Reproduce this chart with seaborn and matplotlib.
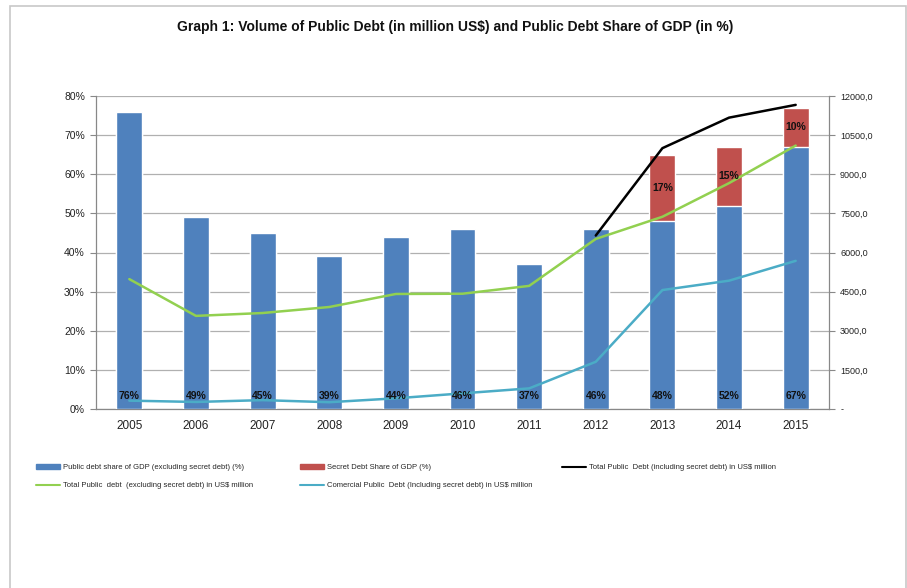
import matplotlib
matplotlib.use('Agg')
import matplotlib.pyplot as plt
import seaborn as sns
import pandas as pd
import numpy as np
from matplotlib.patches import Rectangle, Patch
from matplotlib.lines import Line2D
from matplotlib.ticker import FixedLocator, FuncFormatter

years = ['2005', '2006', '2007', '2008', '2009', '2010', '2011', '2012', '2013', '2014', '2015']
debt_share = [76, 49, 45, 39, 44, 46, 37, 46, 48, 52, 67]
secret_share = [0, 0, 0, 0, 0, 0, 0, 0, 17, 15, 10]
total_excl = [4980, 3570, 3680, 3910, 4410, 4420, 4720, 6520, 7370, 8660, 10100]
total_incl = [None, None, None, None, None, None, None, 6650, 10000, 11170, 11660]
commercial = [320, 270, 340, 260, 410, 600, 790, 1810, 4560, 4920, 5680]

blue = '#4F81BD'
red = '#C0504D'
green = '#92D050'
cyan = '#4BACC6'

df = pd.DataFrame({'year': years, 'share': debt_share, 'secret': secret_share})
df['top'] = df['share'] + df['secret']

sns.set_style('white')
plt.rcParams['font.family'] = ['Liberation Sans', 'DejaVu Sans']

fig = plt.figure(figsize=(9.07, 5.88), dpi=100)
ax = fig.add_axes([96 / 907, 1 - 409 / 588, 733 / 907, 313 / 588])

# stacked bars: total first (red), then the blue part over it
sns.barplot(data=df, x='year', y='top', color=red, width=0.39, saturation=1, ax=ax, zorder=2)
sns.barplot(data=df, x='year', y='share', color=blue, width=0.39, saturation=1, ax=ax, zorder=3)

ax.set_xlim(-0.5, len(years) - 0.5)
ax.set_ylim(0, 80)
ax.set_yticks(range(0, 81, 10))
ax.set_yticklabels([f'{v}%' for v in range(0, 81, 10)], fontsize=7.5, color='#222222')
ax.set_xlabel('')
ax.set_ylabel('')
ax.tick_params(axis='x', labelsize=8.5, length=0, pad=8, colors='#222222')
ax.xaxis.set_minor_locator(FixedLocator(np.arange(-0.5, len(years), 1)))
ax.tick_params(axis='x', which='minor', length=4, color='#888888', direction='out')
ax.tick_params(axis='y', length=4, color='#888888', direction='out', left=True, pad=4)
ax.grid(axis='y', color='#b0b0b0', lw=0.9, zorder=0)
ax.set_axisbelow(True)
for s in ['top', 'right']:
    ax.spines[s].set_visible(False)
for s in ['left', 'bottom']:
    ax.spines[s].set_color('#888888')
    ax.spines[s].set_linewidth(0.9)

ax2 = ax.twinx()
ax2.set_ylim(0, 12000)
ax2.set_yticks(np.arange(0, 12001, 1500))
ax2.yaxis.set_major_formatter(FuncFormatter(lambda v, p: '-' if v == 0 else f'{v:.1f}'.replace('.', ',')))
ax2.tick_params(axis='y', labelsize=6.5, length=4, color='#888888', direction='out', right=True,
                labelcolor='#222222', pad=4)
for s in ['top', 'left', 'bottom']:
    ax2.spines[s].set_visible(False)
ax2.spines['right'].set_color('#888888')
ax2.spines['right'].set_linewidth(0.9)

x = np.arange(len(years))
lines = pd.DataFrame({'x': x, 'excl': total_excl, 'incl': total_incl, 'comm': commercial})
sns.lineplot(data=lines, x='x', y='comm', color=cyan, lw=1.8, ax=ax2)
sns.lineplot(data=lines, x='x', y='excl', color=green, lw=1.8, ax=ax2)
sns.lineplot(data=lines.dropna(), x='x', y='incl', color='black', lw=1.8, ax=ax2)
ax2.set_ylabel('')
ax2.set_xlabel('')
ax2.set_xlim(-0.5, len(years) - 0.5)

# bar labels go on the top axes so the lines do not hide them
for i, v in enumerate(debt_share):
    ax2.text(i, 3.2, f'{v}%', transform=ax.transData, ha='center', va='center', fontsize=7.5,
             fontweight='bold', color='#111111', zorder=6)
for i, v in enumerate(secret_share):
    if v:
        ax2.text(i, debt_share[i] + v * 0.5, f'{v}%', transform=ax.transData, ha='center', va='center',
                 fontsize=7.5, fontweight='bold', color='#111111', zorder=6)

fig.text(455 / 907, 1 - 27 / 588,
         'Graph 1: Volume of Public Debt (in million US$) and Public Debt Share of GDP (in %)',
         ha='center', va='center', fontsize=10, fontweight='bold', color='#111111')

leg_kw = dict(loc='upper left', frameon=False, fontsize=5.5, handlelength=3.2, handleheight=0.6,
              handletextpad=0.3, labelspacing=1.45, borderaxespad=0, borderpad=0)
fig.legend([Patch(color=blue), Line2D([], [], color=green, lw=1.5)],
           ['Public debt share of GDP (excluding secret debt) (%)',
            'Total Public  debt  (excluding secret debt) in US$ million'],
           bbox_to_anchor=(36 / 907, 1 - 464 / 588), **leg_kw)
fig.legend([Patch(color=red), Line2D([], [], color=cyan, lw=1.5)],
           ['Secret Debt Share of GDP (%)',
            'Comercial Public  Debt (Including secret debt) in US$ million'],
           bbox_to_anchor=(300 / 907, 1 - 464 / 588), **leg_kw)
fig.legend([Line2D([], [], color='black', lw=1.5)],
           ['Total Public  Debt (including secret debt) in US$ million'],
           bbox_to_anchor=(562 / 907, 1 - 464 / 588), **leg_kw)

fig.add_artist(Rectangle((10 / 907, -0.05), 896 / 907, 1.05 - 6 / 588, transform=fig.transFigure,
                         fill=False, edgecolor='#c8c8c8', lw=1.2))

fig.savefig('out.png', dpi=100, facecolor='white')
